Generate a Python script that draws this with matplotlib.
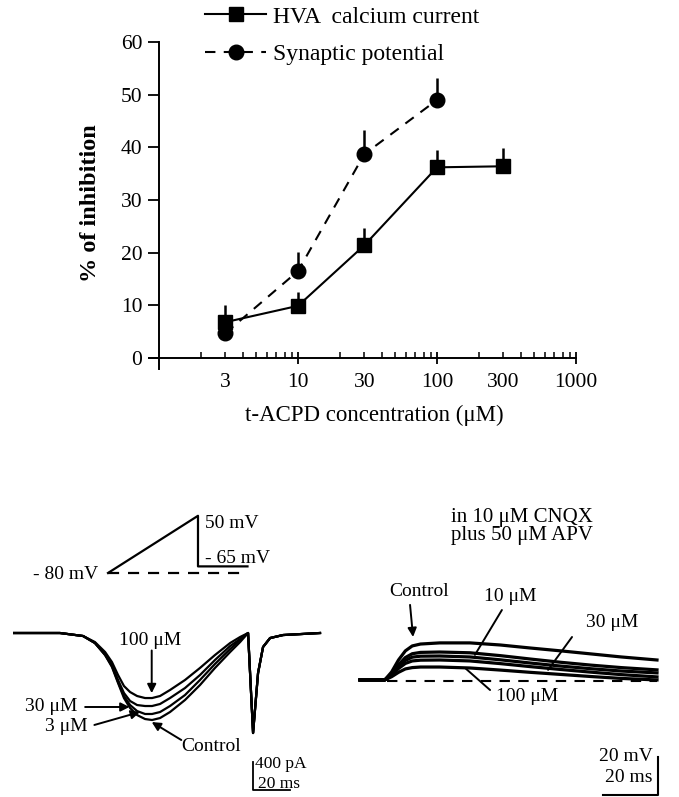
import numpy as np
import matplotlib
matplotlib.use("Agg")
import matplotlib.pyplot as plt

plt.rcParams['font.family'] = ['Liberation Serif', 'DejaVu Serif']

# --- dose-response data (% inhibition vs t-ACPD, uM) ---
conc_hva = [3, 10, 30, 100, 300]
hva = [6.8, 9.9, 21.4, 36.2, 36.4]
hva_err = [3.3, 2.6, 3.3, 3.3, 3.5]

conc_syn = [3, 10, 30, 100]
syn = [4.7, 16.5, 38.7, 49.0]
syn_err = [0.0, 3.6, 4.6, 4.2]

x_major = [10, 100, 1000]
x_minor = [2, 3, 4, 5, 6, 7, 8, 9, 20, 30, 40, 50, 60, 70, 80, 90,
           200, 300, 400, 500, 600, 700, 800, 900]
x_minor_labels = {3: '3', 30: '30', 300: '300'}
y_ticks = [0, 10, 20, 30, 40, 50, 60]

# --- voltage protocol (mV) ---
prot_t = [0, 100, 100, 155]
prot_mv = [-80, 50, -65, -65]

# --- HVA calcium currents (pA) during the ramp ---
cur_t = [0, 25.4, 37.9, 44.3, 49.8, 53.5, 56.8, 60.0, 63.3, 67.1, 71.4, 75.2,
         79.5, 84.9, 93.0, 101.1, 109.2, 117.4, 122.8, 127.1]
cur_control = [0, 0, -43, -143, -315, -486, -715, -930, -1073, -1173, -1230, -1244,
               -1216, -1130, -958, -744, -500, -272, -129, 0]
cur_3 = [0, 0, -43, -143, -315, -472, -701, -901, -1030, -1116, -1158, -1158,
         -1130, -1044, -887, -672, -443, -229, -100, 0]
cur_30 = [0, 0, -43, -143, -300, -458, -672, -858, -972, -1030, -1044, -1044,
          -1015, -930, -787, -601, -386, -186, -86, 0]
cur_100 = [0, 0, -43, -129, -272, -415, -601, -758, -844, -901, -930, -930,
           -901, -815, -672, -500, -315, -143, -57, 0]
# tail current after repolarisation to -65 mV
tail_t = [129.8, 132.5, 135.2, 139, 146, 166]
tail_pa = [-1430, -572, -200, -72, -29, 0]

# --- synaptic potentials (mV) ---
syn_t = [0, 9, 11.5, 14, 16.5, 19, 22, 29, 40, 51, 62, 73, 84, 95, 108]
psp_control = [0, 0, 4.2, 10.5, 15.3, 17.9, 18.9, 19.5, 19.5, 18.4, 16.8, 15.3, 13.7, 12.1, 10.5]
psp_3 = [0, 0, 3.3, 8.0, 11.8, 13.8, 14.5, 14.7, 14.3, 12.8, 11.0, 9.3, 7.8, 6.5, 5.3]
psp_10 = [0, 0, 2.9, 7.0, 10.3, 12.0, 12.5, 12.6, 12.1, 10.6, 8.9, 7.3, 5.9, 4.7, 3.7]
psp_30 = [0, 0, 2.5, 6.0, 8.7, 10.0, 10.4, 10.5, 10.0, 8.6, 7.0, 5.5, 4.1, 2.8, 1.6]
psp_100 = [0, 0, 1.7, 4.0, 5.8, 6.5, 6.8, 6.8, 6.3, 5.2, 4.0, 2.9, 1.8, 0.8, 0]

W, H = 679, 797
fig = plt.figure(figsize=(W / 100, H / 100), dpi=100)


def px_axes(left, top, right, bottom):
    return fig.add_axes([left / W, 1 - bottom / H, (right - left) / W, (bottom - top) / H])


# ---------------- top: dose-response ----------------
ax = px_axes(149, 42, 576, 368.5)
ax.set_xscale('log')
ax.set_xlim(0.847, 1000)
ax.set_ylim(-2, 60)

ax.errorbar(conc_hva, hva, yerr=[np.zeros(len(hva)), hva_err], fmt='none',
            ecolor='k', elinewidth=1.8, capsize=0)
ax.errorbar(conc_syn, syn, yerr=[np.zeros(len(syn)), syn_err], fmt='none',
            ecolor='k', elinewidth=1.8, capsize=0)
l1, = ax.plot(conc_hva, hva, '-', color='k', lw=1.5, marker='s', ms=10.5)
l2, = ax.plot(conc_syn, syn, color='k', lw=1.5, ls=(0, (5, 4)), marker='o', ms=10.5)

for s in ['top', 'right']:
    ax.spines[s].set_visible(False)
ax.spines['left'].set_position(('data', 1))
ax.spines['bottom'].set_position(('data', 0))
for s in ['left', 'bottom']:
    ax.spines[s].set_linewidth(1.4)

ax.set_yticks(y_ticks)
ax.tick_params(axis='y', direction='out', length=8, width=1.3, labelsize=15.5, pad=4)
ax.set_xticks(x_major, [str(v) for v in x_major])
ax.set_xticks(x_minor, [x_minor_labels.get(v, '') for v in x_minor], minor=True)
ax.tick_params(axis='x', which='major', direction='inout', length=9, width=1.3,
               labelsize=15.5, pad=6.5)
ax.tick_params(axis='x', which='minor', direction='in', length=4, width=1.1,
               labelsize=15.5, pad=10.8)

ax.set_xlabel('t-ACPD concentration (\u03bcM)', fontsize=16.5)
ax.xaxis.set_label_coords(0.527, -0.112)
ax.set_ylabel('% of inhibition', fontsize=17.5, fontweight='bold')
ax.yaxis.set_label_coords(-0.112, 0.507)

fig.legend(handles=[l1, l2], labels=['HVA  calcium current', 'Synaptic potential'],
           loc='upper left', bbox_to_anchor=(205 / W, 1 - 6 / H), frameon=False,
           fontsize=17, handlelength=2.6, handletextpad=0.3, labelspacing=0.68,
           borderpad=0, borderaxespad=0, numpoints=1)

# ---------------- bottom left: voltage protocol ----------------
axp = px_axes(0, 500, 260, 600)
axp.set_xlim(-120, 168.9)
axp.set_ylim(-141.4, 85.9)
axp.axis('off')
axp.plot(prot_t, prot_mv, color='k', lw=1.6)
axp.plot([prot_t[0], prot_t[-1]], [prot_mv[0], prot_mv[0]], color='k', lw=1.6,
         ls=(0, (5, 4)))
axp.text(-11, -84.5, '- 80 mV', fontsize=14, ha='right', va='center')
axp.text(107.8, 33.6, '50 mV', fontsize=14, ha='left', va='center')
axp.text(107.8, -46, '- 65 mV', fontsize=14, ha='left', va='center')

# ---------------- bottom left: calcium currents ----------------
axc = px_axes(13, 600, 330, 797)
axc.set_xlim(0, 171.4)
axc.set_ylim(-2345, 472)
axc.axis('off')
for tr in [cur_control, cur_3, cur_30, cur_100]:
    axc.plot(cur_t + tail_t, tr + tail_pa, color='k', lw=1.6)

arrow = dict(arrowstyle='-|>', color='k', lw=1.4, mutation_scale=13, shrinkA=0, shrinkB=0)
axc.text(74, -100, '100 \u03bcM', fontsize=14, ha='center', va='center')
axc.annotate('', xy=(75, -860), xytext=(75, -250), arrowprops=arrow)
axc.text(34.6, -1058, '30 \u03bcM', fontsize=14, ha='right', va='center')
axc.annotate('', xy=(63, -1058), xytext=(39, -1058), arrowprops=arrow)
axc.text(40.5, -1330, '3 \u03bcM', fontsize=14, ha='right', va='center')
axc.annotate('', xy=(68.6, -1130), xytext=(44, -1315), arrowprops=arrow)
axc.text(91, -1630, 'Control', fontsize=14, ha='left', va='center')
axc.annotate('', xy=(75, -1273), xytext=(91, -1530), arrowprops=arrow)

# scale bar 400 pA / 20 ms
axc.plot([129.7, 129.7, 149.7], [-1845, -2245, -2245], color='k', lw=1.3)
axc.text(130.8, -1880, '400 pA', fontsize=12.5, ha='left', va='center')
axc.text(132.4, -2160, '20 ms', fontsize=12.5, ha='left', va='center')

# ---------------- bottom right: synaptic potentials ----------------
axs = px_axes(340, 500, 679, 797)
axs.set_xlim(-7.27, 116)
axs.set_ylim(-61.6, 94.7)
axs.axis('off')
axs.text(58.9, 85.3, 'in 10 \u03bcM CNQX', fontsize=15, ha='center', va='center')
axs.text(58.9, 76.0, 'plus 50 \u03bcM APV', fontsize=15, ha='center', va='center')
for tr in [psp_control, psp_3, psp_10, psp_30, psp_100]:
    axs.plot(syn_t, tr, color='k', lw=2.3)
axs.plot([9.8, 108], [-0.5, -0.5], color='k', lw=1.5, ls=(0, (5, 4)))

axs.text(21.5, 46.3, 'Control', fontsize=14, ha='center', va='center')
axs.annotate('', xy=(19.3, 22.6), xytext=(18.2, 39.5), arrowprops=arrow)
plain = dict(arrowstyle='-', color='k', lw=1.4, shrinkA=0, shrinkB=0)
axs.text(54.5, 43.7, '10 \u03bcM', fontsize=14, ha='center', va='center')
axs.annotate('', xy=(41.8, 13.2), xytext=(51.6, 36.8), arrowprops=plain)
axs.text(91.6, 30, '30 \u03bcM', fontsize=14, ha='center', va='center')
axs.annotate('', xy=(68.4, 5.3), xytext=(77.1, 22.6), arrowprops=plain)
axs.text(60.7, -8.9, '100 \u03bcM', fontsize=14, ha='center', va='center')
axs.annotate('', xy=(38.2, 6.3), xytext=(47.3, -5.3), arrowprops=plain)

# scale bar 20 mV / 20 ms
axs.plot([88.4, 108.4, 108.4], [-60.5, -60.5, -40.5], color='k', lw=1.5)
axs.text(106.5, -40.5, '20 mV', fontsize=14, ha='right', va='center')
axs.text(106.5, -51.5, '20 ms', fontsize=14, ha='right', va='center')

fig.savefig('out.png', dpi=100)
